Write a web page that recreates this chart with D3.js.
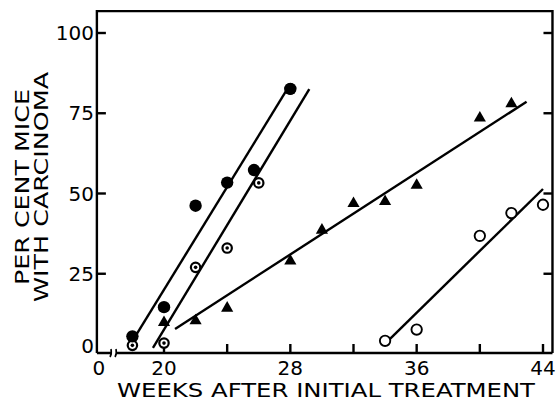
<!DOCTYPE html>
<html><head><meta charset="utf-8">
<script src="https://cdn.jsdelivr.net/npm/d3@7"></script>
<style>html,body{margin:0;padding:0;background:#fff;}svg{display:block;}</style>
</head><body>
<svg id="c" width="556" height="402"></svg>
<script>
// ---- data ----
const weeksFilled = [18, 20, 22, 24, 25.7, 28];
const pctFilled   = [5.5, 14.6, 46.2, 53.4, 57.3, 82.6];
const weeksDotted = [18, 20, 22, 24, 26, 28];
const pctDotted   = [2.7, 3.4, 27.0, 33.0, 53.3, 82.6];
const weeksTri    = [20, 22, 24, 28, 30, 32, 34, 36, 40, 42];
const pctTri      = [10.1, 10.7, 14.6, 29.3, 38.9, 47.2, 47.8, 52.9, 73.8, 78.3];
const weeksOpen   = [34, 36, 40, 42, 44];
const pctOpen     = [4.1, 7.6, 36.8, 43.9, 46.5];
// fitted lines: [week, pct] endpoints
const lineFilled = [[17.9, 3.2], [27.85, 82.9]];
const lineDotted = [[19.3, 1.9], [29.2, 82.5]];
const lineTri    = [[20.7, 7.8], [42.96, 78.6]];
const lineOpen   = [[34.2, 4.2], [44.0, 51.4]];
const xTicks = [20, 24, 28, 32, 36, 40, 44];
const xTickLabels = [20, 28, 36, 44];
const yTicks = [25, 50, 75, 100];
const yTickLabels = [0, 25, 50, 75, 100];
const xTitle = "WEEKS AFTER INITIAL TREATMENT";
const yTitle = ["PER CENT MICE", "WITH CARCINOMA"];

const svg = d3.select("#c");
const FONT = "DejaVu Sans";
const x = d3.scaleLinear().domain([20, 44]).range([164, 543]);
const y = d3.scaleLinear().domain([0, 100]).range([354, 33]);
const xMin = 15.75, xMax = 44.6, yTop = 106.8;
const X0 = x(xMin), X1 = x(xMax), Y0 = 353, YT = y(yTop);
const SW = 2.4;

// frame
const g = svg.append("g").attr("stroke", "#000").attr("stroke-width", SW).attr("fill", "none");
g.append("path").attr("d", `M${X0},${Y0}V${YT}H${X1}V${Y0}`);
// bottom axis with break
const brk = 111;
g.append("path").attr("d", `M${X0},${Y0}H${brk}M${brk + 6},${Y0}H${X1}`);
g.append("path").attr("stroke-width", 1.6)
  .attr("d", `M${brk - 1},${Y0 + 4}q2,-3 1,-8M${brk + 4},${Y0 + 4}q2,-3 1,-8`);

// ticks
const T = 9;
g.selectAll(".xt").data(xTicks).join("line")
  .attr("x1", d => x(d)).attr("x2", d => x(d)).attr("y1", Y0).attr("y2", Y0 - T);
g.selectAll(".yl").data(yTicks).join("line")
  .attr("x1", X0).attr("x2", X0 + T).attr("y1", d => y(d)).attr("y2", d => y(d));
g.selectAll(".yr").data(yTicks).join("line")
  .attr("x1", X1).attr("x2", X1 - T).attr("y1", d => y(d)).attr("y2", d => y(d));

// tick labels
const tl = svg.append("g").attr("font-family", FONT).attr("font-size", 20).attr("fill", "#000");
tl.selectAll(".xl").data(xTickLabels).join("text")
  .attr("x", d => x(d)).attr("y", 374.5).attr("text-anchor", "middle").text(d => d);
tl.append("text").attr("x", X0 + 2).attr("y", 374.5).attr("text-anchor", "middle").text("0");
tl.selectAll(".ylab").data(yTickLabels).join("text")
  .attr("x", 94).attr("y", d => d === 0 ? 346 : y(d)).attr("dy", "0.36em")
  .attr("text-anchor", "end").text(d => d);

// titles
svg.append("text").attr("font-family", FONT).attr("font-size", 19)
  .attr("x", 117).attr("y", 397).attr("textLength", 418).attr("lengthAdjust", "spacingAndGlyphs")
  .text(xTitle);
const yt = svg.append("g").attr("transform", "translate(0,187) rotate(-90)")
  .attr("font-family", FONT).attr("font-size", 20);
yt.append("text").attr("x", 0).attr("y", 29).attr("text-anchor", "middle")
  .attr("textLength", 196).attr("lengthAdjust", "spacingAndGlyphs").text(yTitle[0]);
yt.append("text").attr("x", 0).attr("y", 48).attr("text-anchor", "middle")
  .attr("textLength", 230).attr("lengthAdjust", "spacingAndGlyphs").text(yTitle[1]);

// fitted lines
const ln = d3.line().x(d => x(d[0])).y(d => y(d[1]));
svg.append("g").attr("stroke", "#000").attr("stroke-width", 2.4).attr("fill", "none")
  .selectAll("path").data([lineFilled, lineDotted, lineTri, lineOpen]).join("path")
  .attr("d", ln);

// markers
const dotted = d3.zip(weeksDotted, pctDotted);
const filled = d3.zip(weeksFilled, pctFilled);
const tri = d3.zip(weeksTri, pctTri);
const open = d3.zip(weeksOpen, pctOpen);

svg.append("g").selectAll("circle").data(dotted).join("circle")
  .attr("cx", d => x(d[0])).attr("cy", d => y(d[1])).attr("r", 4.7)
  .attr("fill", "#fff").attr("stroke", "#000").attr("stroke-width", 2.2);
svg.append("g").selectAll("circle").data(dotted).join("circle")
  .attr("cx", d => x(d[0])).attr("cy", d => y(d[1])).attr("r", 1.8).attr("fill", "#000");
svg.append("g").selectAll("circle").data(filled).join("circle")
  .attr("cx", d => x(d[0])).attr("cy", d => y(d[1])).attr("r", 6.2).attr("fill", "#000");
svg.append("g").selectAll("circle").data(open).join("circle")
  .attr("cx", d => x(d[0])).attr("cy", d => y(d[1])).attr("r", 5.2)
  .attr("fill", "#fff").attr("stroke", "#000").attr("stroke-width", 1.9);
const triSym = d3.symbol().type(d3.symbolTriangle).size(64);
svg.append("g").selectAll("path").data(tri).join("path")
  .attr("transform", d => `translate(${x(d[0])},${y(d[1]) + 1})`).attr("d", triSym).attr("fill", "#000");
</script>
</body></html>
